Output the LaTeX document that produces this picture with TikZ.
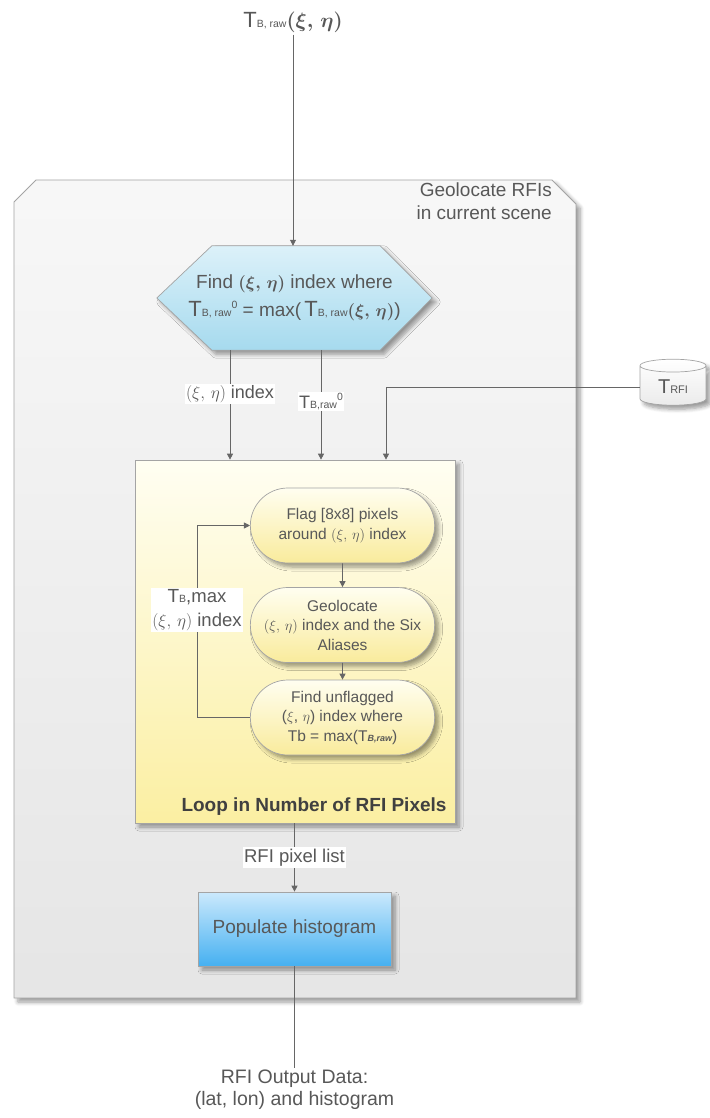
\documentclass[tikz,border=0pt]{standalone}
\usepackage{fontspec}
\usepackage{bm}
\setmainfont{Liberation Sans}
\usetikzlibrary{arrows.meta,shapes.geometric,shapes.misc,shadows.blur}

\definecolor{linegray}{HTML}{666666}
\definecolor{txtgray}{HTML}{585858}
\definecolor{bordergray}{HTML}{A4A4A4}
\definecolor{hextop}{HTML}{DCF1F9}
\definecolor{hexbot}{HTML}{A6DAEE}
\definecolor{looptop}{HTML}{FFFEF2}
\definecolor{loopbot}{HTML}{FBEFA2}
\definecolor{steptop}{HTML}{FFFEF0}
\definecolor{stepbot}{HTML}{F9EB9C}
\definecolor{poptop}{HTML}{CBE9FC}
\definecolor{popbot}{HTML}{45B0F1}

% T with a small label beside it, e.g. T_{B, raw}
\newcommand\Tlab[2][22]{{\fontsize{#1}{#1}\selectfont T}{\fontsize{10.5}{11}\selectfont #2}}
\newcommand\supzero{\raisebox{8pt}{\fontsize{10.5}{11}\selectfont 0}}

\tikzset{
  arr/.style={draw=linegray, line width=0.8pt, -{Triangle[length=6pt,width=6pt]}},
  plain/.style={draw=linegray, line width=0.8pt},
  softshadow/.style={blur shadow={shadow xshift=4pt, shadow yshift=-4pt, shadow blur radius=4pt, shadow blur steps=6}},
  lbl/.style={fill=white, inner sep=1.5pt, text=txtgray},
  stadium/.style={rounded rectangle, draw=bordergray, line width=0.7pt,
    minimum width=191pt, minimum height=75pt, top color=steptop, bottom color=stepbot,
    align=center, text=txtgray, font=\fontsize{15.5}{19.5}\selectfont, softshadow},
}

\begin{document}
\begin{tikzpicture}[x=1pt,y=1pt]
\useasboundingbox (0,0) rectangle (709,-1118);

% outer container
\path[draw=bordergray, line width=0.9pt, top color=black!3, bottom color=black!10, softshadow]
  (14,-202) -- (36,-180) -- (552,-180) -- (576,-204) -- (576,-998) -- (14,-998) -- cycle;
\node[anchor=north east, align=right, text=txtgray, font=\fontsize{19}{23}\selectfont, inner sep=0pt]
  (scene) at (552,-183) {Geolocate RFIs\\in current scene};

% input
\node[text=txtgray, inner sep=2pt] (tin) at (293,-22)
  {\Tlab[22]{B, raw}{\fontsize{21}{21}\selectfont$\bm{(\xi,\,\eta)}$}};

% search step: a hexagon pointed at both sides
\node[minimum width=275pt, minimum height=104pt, inner sep=0pt] (hex) at (294.5,-298) {};
\path[draw=bordergray, line width=0.7pt, top color=hextop, bottom color=hexbot, softshadow]
  (hex.west) -- ([xshift=55pt]hex.north west) -- ([xshift=-52pt]hex.north east)
  -- (hex.east) -- ([xshift=-52pt]hex.south east) -- ([xshift=55pt]hex.south west) -- cycle;
\node[align=center, text=txtgray, font=\fontsize{19}{28}\selectfont, inner sep=0pt]
  (hextext) at (hex.center)
  {Find $\bm{(\xi,\,\eta)}$ index where\\
   \Tlab{B, raw}\supzero{} = max(\,\Tlab{B, raw}$\bm{(\xi,\,\eta)}$)};

% loop container
\node[rectangle, draw=bordergray, line width=0.7pt, minimum width=320pt, minimum height=363pt,
  top color=looptop, bottom color=loopbot, softshadow]
  (loop) at (295,-641.5) {};
\node[anchor=base, text=black!75, font=\bfseries\fontsize{19}{20}\selectfont] (looplbl)
  at (314,-811) {Loop in Number of RFI Pixels};

% stored RFI threshold
\node[cylinder, shape border rotate=90, aspect=0.35, draw=bordergray, line width=0.7pt,
  minimum width=66pt, minimum height=46pt, top color=white, bottom color=black!8,
  text=txtgray, softshadow]
  (trfi) at (673,-387) {{\fontsize{20}{20}\selectfont T}{\fontsize{11}{11}\selectfont RFI}};

% loop body
\node[stadium] (n1) at (342.5,-525.5) {Flag [8x8] pixels\\around $(\xi,\,\eta)$ index};
\node[stadium] (n2) at (342.5,-625) {Geolocate\\$(\xi,\,\eta)$ index and the Six\\Aliases};
\node[stadium] (n3) at (342.5,-717.5) {Find unflagged\\($\xi$, $\eta$) index where\\Tb = max(T{\fontsize{9}{9}\selectfont\bfseries\itshape B,raw})};

% histogram
\node[rectangle, draw=bordergray, line width=0.7pt, minimum width=193pt, minimum height=74pt,
  top color=poptop, bottom color=popbot,
  text=txtgray, font=\fontsize{19}{20}\selectfont, softshadow]
  (pop) at (294.5,-929) {Populate histogram};

% output
\node[align=center, text=txtgray, font=\fontsize{19.5}{22}\selectfont, inner sep=2pt]
  (out) at (294.5,-1090) {RFI Output Data:\\(lat, lon) and histogram};

% connectors
\draw[arr] (tin.south) -- (tin.south |- hex.north);
\draw[arr] ([xshift=-64.5pt]hex.south) -- ([xshift=-64.5pt]hex.south |- loop.north)
  node[lbl, pos=0.4, font=\fontsize{18}{18}\selectfont] {$(\xi,\,\eta)$ index};
\draw[arr] ([xshift=26.5pt]hex.south) -- ([xshift=26.5pt]hex.south |- loop.north)
  node[lbl, pos=0.47] {\Tlab[18]{B,raw}\supzero};
\draw[arr] (trfi.west) -| ([xshift=91pt]loop.north);
\draw[arr] (n1) -- (n2);
\draw[arr] (n2) -- (n3);
\draw[arr] (n3.west) -- ++(-53,0) |- (n1.west)
  node[lbl, pos=0.28, align=center, font=\fontsize{18.5}{24}\selectfont]
  {\Tlab[19]{B},max\\$(\xi,\,\eta)$ index};
\draw[arr] (loop.south -| pop.north) -- (pop.north)
  node[lbl, midway, font=\fontsize{18.5}{18.5}\selectfont] {RFI pixel list};
\draw[plain] (pop.south) -- (out.north);

\end{tikzpicture}
\end{document}
